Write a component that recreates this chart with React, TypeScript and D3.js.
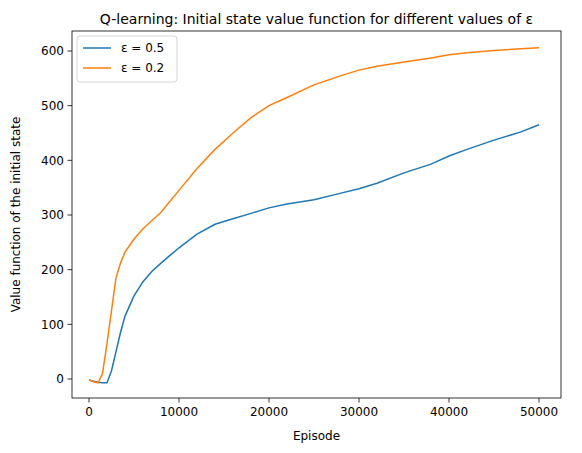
import * as d3 from 'd3'
import React from 'react'

const episodes = [0, 500, 1000, 1500, 2000, 2500, 3000, 3500, 4000, 5000, 6000, 7000, 8000, 9000, 10000, 12000, 14000, 16000, 18000, 20000, 22000, 25000, 28000, 30000, 32000, 35000, 38000, 40000, 42000, 45000, 48000, 50000]
const eps05 = [-2, -4, -6, -7, -7, 15, 50, 85, 115, 152, 178, 197, 212, 226, 240, 265, 283, 293, 303, 313, 320, 328, 340, 348, 358, 377, 393, 408, 420, 437, 452, 465]
const eps02 = [-2, -5, -7, 10, 65, 125, 185, 212, 232, 256, 275, 290, 305, 325, 345, 385, 420, 450, 478, 500, 515, 538, 555, 565, 572, 580, 587, 593, 597, 601, 604, 606]

const series = [
  { label: 'ε = 0.5', values: eps05, color: '#1f77b4' },
  { label: 'ε = 0.2', values: eps02, color: '#ff7f0e' },
]
const xTicks = [0, 10000, 20000, 30000, 40000, 50000]
const yTicks = [0, 100, 200, 300, 400, 500, 600]

const App = () => {
  const left = 72, right = 561, top = 31, bottom = 398
  const x = d3.scaleLinear().domain([-1889, 52444]).range([left, right])
  const y = d3.scaleLinear().domain([-34.8, 636.6]).range([bottom, top])
  const line = d3.line<number>().x((_, i) => x(episodes[i])).y((d) => y(d))
  return (
    <svg width={582} height={453} style={{ position: 'absolute', left: 0, top: 0 }} fontFamily="DejaVu Sans" fontSize={12}>
      <rect width={582} height={453} fill="white" />
      <text x={(left + right) / 2} y={top - 7} textAnchor="middle" fontSize={14}>
        Q-learning: Initial state value function for different values of ε
      </text>
      {series.map((s) => (
        <path key={s.label} d={line(s.values) ?? ''} fill="none" stroke={s.color} strokeWidth={1.5} />
      ))}
      <rect x={left} y={top} width={right - left} height={bottom - top} fill="none" stroke="black" strokeWidth={0.8} />
      {xTicks.map((t) => (
        <g key={t} transform={`translate(${x(t)},${bottom})`}>
          <line y2={4.5} stroke="black" strokeWidth={0.8} />
          <text y={18} textAnchor="middle">{t}</text>
        </g>
      ))}
      {yTicks.map((t) => (
        <g key={t} transform={`translate(${left},${y(t)})`}>
          <line x2={-4.5} stroke="black" strokeWidth={0.8} />
          <text x={-8} dy="0.35em" textAnchor="end">{t}</text>
        </g>
      ))}
      <text x={(left + right) / 2} y={440} textAnchor="middle">Episode</text>
      <text transform={`translate(20,${(top + bottom) / 2}) rotate(-90)`} textAnchor="middle">
        Value function of the initial state
      </text>
      <g transform={`translate(${left + 5},${top + 5})`}>
        <rect width={100} height={46} rx={3} fill="white" stroke="#ccc" strokeWidth={0.8} />
        {series.map((s, i) => (
          <g key={s.label} transform={`translate(6,${12 + i * 20})`}>
            <line x2={28} stroke={s.color} strokeWidth={1.5} />
            <text x={38} dy="0.35em">{s.label}</text>
          </g>
        ))}
      </g>
    </svg>
  )
}

export default App
